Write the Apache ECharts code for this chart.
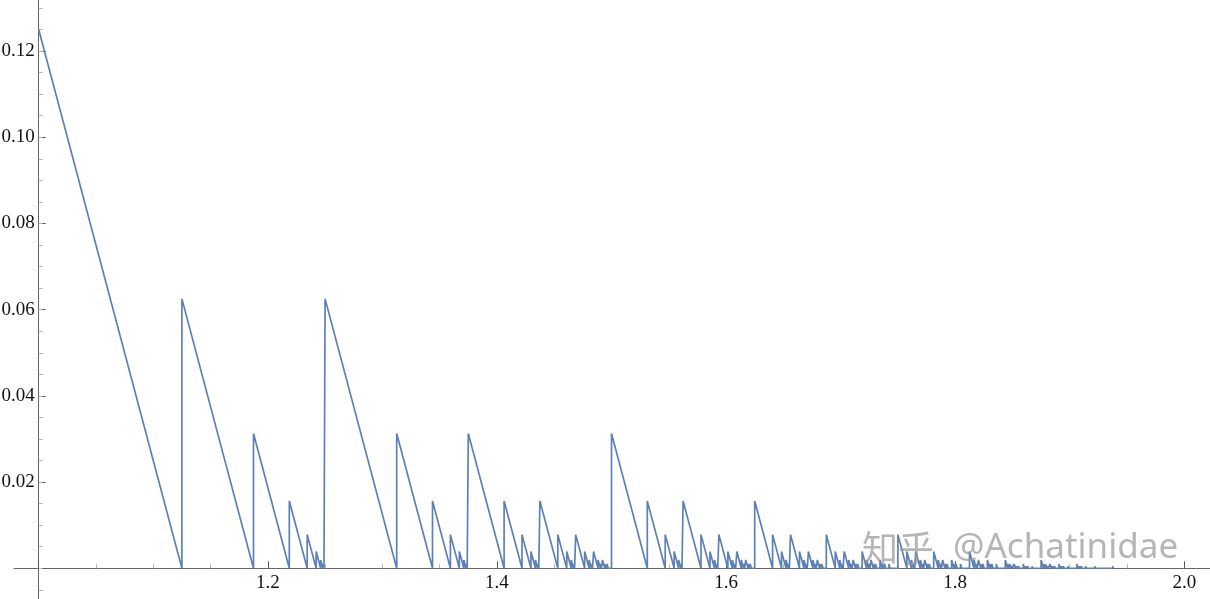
<!DOCTYPE html>
<html>
<head>
<meta charset="utf-8">
<script src="https://cdn.jsdelivr.net/npm/echarts@6/dist/echarts.min.js"></script>
<style>
html,body{margin:0;padding:0;background:#fff;}
#chart{width:1210px;height:599px;}
</style>
</head>
<body>
<div id="chart"></div>
<script>
// Tooth start positions (x) where the curve jumps up
const toothX = [
  1, 1.125, 1.1875, 1.21875, 1.234375, 1.2421875, 1.24609375, 1.248046875,
  1.25, 1.3125, 1.34375, 1.359375, 1.3671875, 1.37109375, 1.373046875,
  1.375, 1.40625, 1.421875, 1.4296875, 1.43359375, 1.435546875,
  1.4375, 1.453125, 1.4609375, 1.46484375, 1.466796875,
  1.46875, 1.4765625, 1.48046875, 1.482421875,
  1.484375, 1.48828125, 1.490234375,
  1.4921875, 1.494140625,
  1.49609375,
  1.5, 1.53125, 1.546875, 1.5546875, 1.55859375, 1.560546875,
  1.5625, 1.578125, 1.5859375, 1.58984375, 1.591796875,
  1.59375, 1.6015625, 1.60546875, 1.607421875,
  1.609375, 1.61328125, 1.615234375,
  1.6171875, 1.619140625,
  1.62109375,
  1.625, 1.640625, 1.6484375, 1.65234375, 1.654296875,
  1.65625, 1.6640625, 1.66796875, 1.669921875,
  1.671875, 1.67578125, 1.677734375,
  1.6796875, 1.681640625,
  1.68359375,
  1.6875, 1.6953125, 1.69921875, 1.701171875,
  1.703125, 1.70703125, 1.708984375,
  1.7109375, 1.712890625,
  1.71484375,
  1.71875, 1.72265625, 1.724609375,
  1.7265625, 1.728515625,
  1.73046875,
  1.734375, 1.736328125,
  1.73828125,
  1.7421875,
  1.75, 1.7578125, 1.76171875, 1.763671875,
  1.765625, 1.76953125, 1.771484375,
  1.7734375, 1.775390625,
  1.77734375,
  1.78125, 1.78515625, 1.787109375,
  1.7890625, 1.791015625,
  1.79296875,
  1.796875, 1.798828125,
  1.80078125,
  1.8046875,
  1.8125, 1.81640625, 1.818359375,
  1.8203125, 1.822265625,
  1.82421875,
  1.828125, 1.830078125,
  1.83203125,
  1.8359375,
  1.84375, 1.845703125, 1.84765625, 1.849609375,
  1.8515625, 1.8525390625, 1.853515625, 1.85546875,
  1.859375, 1.8603515625, 1.861328125, 1.86328125, 1.8671875,
  1.875, 1.876953125, 1.8779296875, 1.87890625, 1.8798828125, 1.880859375,
  1.8828125, 1.8837890625, 1.884765625, 1.88671875,
  1.890625, 1.8916015625, 1.892578125, 1.89453125, 1.8984375,
  1.90625, 1.9072265625, 1.908203125, 1.91015625, 1.9140625, 1.921875,
  1.9375
];

// Peak height of each tooth (the curve then falls with slope -1 back to zero)
const toothH = [
  0.125, 0.0625, 0.03125, 0.015625, 0.0078125, 0.00390625, 0.001953125, 0.0009765625,
  0.0625, 0.03125, 0.015625, 0.0078125, 0.00390625, 0.001953125, 0.0009765625,
  0.03125, 0.015625, 0.0078125, 0.00390625, 0.001953125, 0.0009765625,
  0.015625, 0.0078125, 0.00390625, 0.001953125, 0.0009765625,
  0.0078125, 0.00390625, 0.001953125, 0.0009765625,
  0.00390625, 0.001953125, 0.0009765625,
  0.001953125, 0.0009765625,
  0.0009765625,
  0.03125, 0.015625, 0.0078125, 0.00390625, 0.001953125, 0.0009765625,
  0.015625, 0.0078125, 0.00390625, 0.001953125, 0.0009765625,
  0.0078125, 0.00390625, 0.001953125, 0.0009765625,
  0.00390625, 0.001953125, 0.0009765625,
  0.001953125, 0.0009765625,
  0.0009765625,
  0.015625, 0.0078125, 0.00390625, 0.001953125, 0.0009765625,
  0.0078125, 0.00390625, 0.001953125, 0.0009765625,
  0.00390625, 0.001953125, 0.0009765625,
  0.001953125, 0.0009765625,
  0.0009765625,
  0.0078125, 0.00390625, 0.001953125, 0.0009765625,
  0.00390625, 0.001953125, 0.0009765625,
  0.001953125, 0.0009765625,
  0.0009765625,
  0.00390625, 0.001953125, 0.0009765625,
  0.001953125, 0.0009765625,
  0.0009765625,
  0.001953125, 0.0009765625,
  0.0009765625,
  0.0009765625,
  0.0078125, 0.00390625, 0.001953125, 0.0009765625,
  0.00390625, 0.001953125, 0.0009765625,
  0.001953125, 0.0009765625,
  0.0009765625,
  0.00390625, 0.001953125, 0.0009765625,
  0.001953125, 0.0009765625,
  0.0009765625,
  0.001953125, 0.0009765625,
  0.0009765625,
  0.0009765625,
  0.00390625, 0.001953125, 0.0009765625,
  0.001953125, 0.0009765625,
  0.0009765625,
  0.001953125, 0.0009765625,
  0.0009765625,
  0.0009765625,
  0.001953125, 0.0009765625, 0.0009765625, 0.00048828125,
  0.0009765625, 0.00048828125, 0.00048828125, 0.00048828125,
  0.0009765625, 0.00048828125, 0.00048828125, 0.00048828125, 0.00048828125,
  0.001953125, 0.0009765625, 0.00048828125, 0.0009765625, 0.00048828125, 0.00048828125,
  0.0009765625, 0.00048828125, 0.00048828125, 0.00048828125,
  0.0009765625, 0.00048828125, 0.00048828125, 0.00048828125, 0.00048828125,
  0.0009765625, 0.00048828125, 0.00048828125, 0.00048828125, 0.00048828125, 0.00048828125,
  0.00048828125
];

const xTickLabels = ['1.2', '1.4', '1.6', '1.8', '2.0'];
const yTickLabels = ['0.02', '0.04', '0.06', '0.08', '0.10', '0.12'];

// Build the sawtooth polyline from the teeth
const lineData = [];
for (let i = 0; i < toothX.length; i++) {
  const x = toothX[i], h = toothH[i];
  if (i > 0) lineData.push([x, 0]);
  lineData.push([x, h]);
  lineData.push([x + h, 0]);
}

const serif = '"Liberation Serif", "Times New Roman", serif';
const axisGray = '#666666';

const chart = echarts.init(document.getElementById('chart'), null, {renderer: 'canvas'});
chart.setOption({
  animation: false,
  backgroundColor: '#ffffff',
  grid: [
    {left: 38.7, right: 25.7, top: -35.2, bottom: 30.7, containLabel: false, outerBoundsMode: 'none'},   // main plot
    {left: 38.7, right: 25.7, top: -35.2, bottom: -12.4, containLabel: false, outerBoundsMode: 'none'},  // y-axis line + minor ticks
    {left: 14, right: 0, top: 0, bottom: 30.7, containLabel: false, outerBoundsMode: 'none'}             // x-axis line
  ],
  xAxis: [
    {
      gridIndex: 0, type: 'value', min: 1, max: 2, interval: 0.2,
      axisLine: {show: false},
      axisTick: {show: true, inside: true, length: 7, lineStyle: {color: '#555', width: 1}},
      minorTick: {show: true, splitNumber: 4, length: 4, lineStyle: {color: '#b5b5b5', width: 1}},
      splitLine: {show: false},
      axisLabel: {
        show: true, margin: 5, color: '#111', fontSize: 19, fontFamily: serif,
        formatter: function (v) { const s = v.toFixed(1); return xTickLabels.indexOf(s) >= 0 ? s : ''; }
      }
    },
    {gridIndex: 1, type: 'value', min: 0, max: 1, show: false},
    {
      gridIndex: 2, type: 'value', min: 0, max: 1,
      axisLine: {show: true, onZero: false, lineStyle: {color: axisGray, width: 1}},
      axisTick: {show: false}, axisLabel: {show: false}, splitLine: {show: false}
    }
  ],
  yAxis: [
    {
      gridIndex: 0, type: 'value', min: 0, max: 0.14, interval: 0.02,
      axisLine: {show: false},
      axisTick: {show: true, inside: true, length: 7, lineStyle: {color: '#555', width: 1}},
      splitLine: {show: false},
      axisLabel: {
        show: true, margin: 4, color: '#111', fontSize: 19, fontFamily: serif,
        formatter: function (v) { const s = v.toFixed(2); return yTickLabels.indexOf(s) >= 0 ? s : ''; }
      }
    },
    {
      gridIndex: 1, type: 'value', min: -0.01, max: 0.14, interval: 0.005,
      axisLine: {show: true, onZero: false, lineStyle: {color: axisGray, width: 1}},
      axisTick: {show: true, inside: true, length: 4, lineStyle: {color: '#b5b5b5', width: 1}},
      axisLabel: {show: false}, splitLine: {show: false}
    },
    {gridIndex: 2, type: 'value', min: 0, max: 1, show: false}
  ],
  series: [{
    type: 'line',
    xAxisIndex: 0, yAxisIndex: 0,
    data: lineData,
    showSymbol: false,
    symbol: 'none',
    silent: true,
    clip: true,
    z: 5,
    lineStyle: {color: '#5E81B5', width: 1.7}
  }],
  graphic: [
    {
      type: 'text', x: 862, y: 548, z: 100, silent: true,
      style: {text: '知乎', font: '36px "Noto Sans CJK SC"', fill: 'rgba(150,150,150,0.7)', align: 'left', verticalAlign: 'middle'}
    },
    {
      type: 'text', x: 953, y: 548, z: 100, silent: true,
      style: {text: '@Achatinidae', font: '35px "Noto Sans", "Noto Sans CJK SC"', fill: 'rgba(150,150,150,0.7)', align: 'left', verticalAlign: 'middle'}
    }
  ]
});
</script>
</body>
</html>
